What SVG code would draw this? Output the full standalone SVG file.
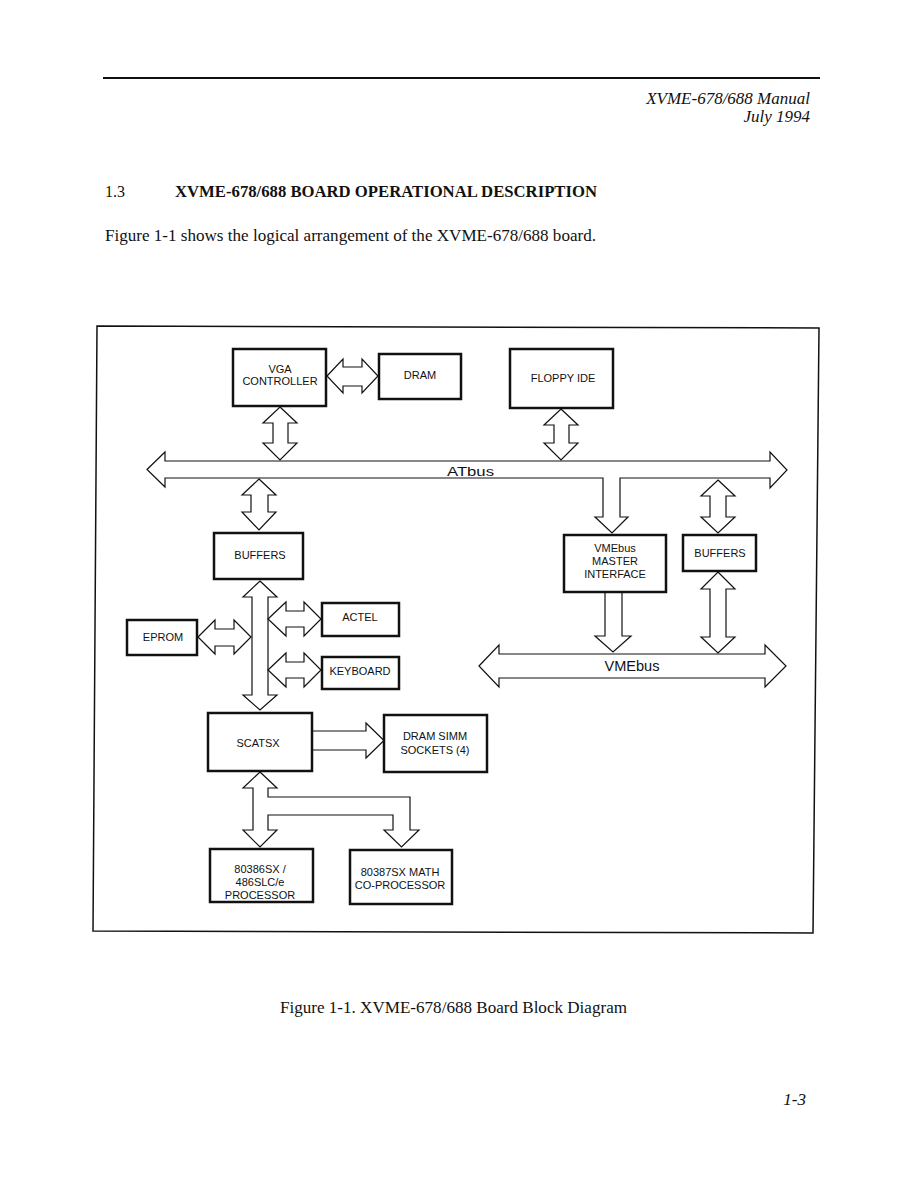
<svg xmlns="http://www.w3.org/2000/svg" width="918" height="1188" viewBox="0 0 918 1188">
<style>
.page{font-family:"Liberation Serif","Times New Roman",serif;fill:#111}
.it{font-style:italic}
.box{fill:#fff;stroke:#111;stroke-width:2.5}
.lbl{font-family:"Liberation Sans",Arial,sans-serif;font-size:11px;fill:#111;text-anchor:middle}
.arr{fill:#fff;stroke:#111;stroke-width:1.2;stroke-linejoin:miter}
.frame{fill:none;stroke:#111;stroke-width:1.5}
</style>
<rect width="918" height="1188" fill="#fff"/>
<line x1="103" y1="78" x2="820" y2="78" stroke="#111" stroke-width="2"/>
<text class="page it" x="810" y="104" font-size="17" text-anchor="end">XVME-678/688 Manual</text>
<text class="page it" x="810" y="122" font-size="17" text-anchor="end">July 1994</text>
<text class="page" x="105" y="197" font-size="16">1.3</text>
<text class="page" x="175" y="197" font-size="16" font-weight="bold" textLength="422" lengthAdjust="spacingAndGlyphs">XVME-678/688 BOARD OPERATIONAL DESCRIPTION</text>
<text class="page" x="105" y="241" font-size="16" textLength="491" lengthAdjust="spacingAndGlyphs">Figure 1-1 shows the logical arrangement of the XVME-678/688 board.</text>
<path class="frame" d="M97,326 L819,328 L813,933 L93,931 Z"/>
<g id="connectors">
<path class="arr" d="M327,376 L343,359 L343,367 L362,367 L362,359 L378,376 L362,393 L362,386 L343,386 L343,393 Z"/>
<path class="arr" d="M280,407 L297,423 L288,423 L288,443 L297,443 L280,460 L263,443 L273,443 L273,423 L263,423 Z"/>
<path class="arr" d="M561,409 L578,425 L569,425 L569,443 L578,443 L561,460 L544,443 L554,443 L554,425 L544,425 Z"/>
<path id="atbus" class="arr" d="M147,469.5 L165,452 L165,461 L770,461 L770,452 L787,470 L770,488 L770,478 L620,478 L620,517 L628,517 L612,533 L595,517 L603,517 L603,478 L165,478 L165,487 Z"/>
<path class="arr" d="M259,479 L276,495 L268,495 L268,512 L276,512 L259,530 L242,512 L251,512 L251,495 L242,495 Z"/>
<path class="arr" d="M718,480 L735,496 L726,496 L726,517 L735,517 L718,533 L701,517 L710,517 L710,496 L701,496 Z"/>
<path class="arr" d="M260,581 L277,597 L268,597 L268,695 L277,695 L260,710 L243,695 L252,695 L252,597 L243,597 Z"/>
<path class="arr" d="M198,637 L215,620 L215,629 L234,629 L234,620 L251,637 L234,654 L234,646 L215,646 L215,654 Z"/>
<path class="arr" d="M268,619 L286,602 L286,611 L304,611 L304,602 L321,619 L304,636 L304,627 L286,627 L286,636 Z"/>
<path class="arr" d="M268,670 L286,653 L286,662 L304,662 L304,653 L321,670 L304,687 L304,678 L286,678 L286,687 Z"/>
<path class="arr" d="M312,731 L366,731 L366,723 L384,740.5 L366,758 L366,750 L312,750"/>
<path class="arr" d="M260,772 L277,788 L268,788 L268,797 L410,797 L410,830 L419,830 L401.5,847 L384,830 L393,830 L393,815 L268,815 L268,830 L277,830 L260,847 L243,830 L253,830 L253,788 L243,788 Z"/>
<path class="arr" d="M605,592 L605,636 L595,636 L613,652 L631,636 L622,636 L622,592"/>
<path class="arr" d="M718,572 L735,589 L726,589 L726,637 L735,637 L718,653 L701,637 L710,637 L710,589 L701,589 Z"/>
<path id="vmebus" class="arr" d="M479,666 L499,645 L499,654 L765,654 L765,645 L786,666 L765,687 L765,678 L499,678 L499,687 Z"/>
<text x="447" y="476" font-family="Liberation Sans, Arial, sans-serif" font-size="12" fill="#111" textLength="47" lengthAdjust="spacingAndGlyphs">ATbus</text>
<text x="632" y="671" font-family="Liberation Sans, Arial, sans-serif" font-size="15" fill="#111" text-anchor="middle" textLength="55" lengthAdjust="spacingAndGlyphs">VMEbus</text>
</g>
<g id="vga"><rect class="box" x="233" y="349" width="93" height="57"/><text class="lbl" x="280" y="373">VGA</text><text class="lbl" x="280" y="385">CONTROLLER</text></g>
<g id="dram"><rect class="box" x="379" y="354" width="82" height="45"/><text class="lbl" x="420" y="379">DRAM</text></g>
<g id="floppy"><rect class="box" x="510" y="349" width="103" height="59"/><text class="lbl" x="563" y="382">FLOPPY IDE</text></g>
<g id="buffers1"><rect class="box" x="214" y="533" width="89" height="46"/><text class="lbl" x="260" y="559">BUFFERS</text></g>
<g id="eprom"><rect class="box" x="127" y="620" width="70" height="35"/><text class="lbl" x="163" y="641">EPROM</text></g>
<g id="actel"><rect class="box" x="322" y="603" width="77" height="33"/><text class="lbl" x="360" y="621">ACTEL</text></g>
<g id="keyboard"><rect class="box" x="322" y="657" width="77" height="32"/><text class="lbl" x="360" y="675">KEYBOARD</text></g>
<g id="scatsx"><rect class="box" x="208" y="713" width="104" height="58"/><text class="lbl" x="258" y="747">SCATSX</text></g>
<g id="simm"><rect class="box" x="384" y="715" width="103" height="57"/><text class="lbl" x="435" y="740">DRAM SIMM</text><text class="lbl" x="435" y="754">SOCKETS (4)</text></g>
<g id="cpu"><rect class="box" x="210" y="849" width="103" height="53"/><text class="lbl" x="260" y="873">80386SX /</text><text class="lbl" x="260" y="886">486SLC/e</text><text class="lbl" x="260" y="899">PROCESSOR</text></g>
<g id="fpu"><rect class="box" x="350" y="850" width="102" height="54"/><text class="lbl" x="400" y="876">80387SX MATH</text><text class="lbl" x="400" y="889">CO-PROCESSOR</text></g>
<g id="vmemaster"><rect class="box" x="564" y="535" width="102" height="57"/><text class="lbl" x="615" y="552">VMEbus</text><text class="lbl" x="615" y="565">MASTER</text><text class="lbl" x="615" y="578">INTERFACE</text></g>
<g id="buffers2"><rect class="box" x="683" y="535" width="73" height="36"/><text class="lbl" x="720" y="557">BUFFERS</text></g>
<text class="page" x="280" y="1013" font-size="16" textLength="347" lengthAdjust="spacingAndGlyphs">Figure 1-1. XVME-678/688 Board Block Diagram</text>
<text class="page it" x="806" y="1105" font-size="17" text-anchor="end">1-3</text>
</svg>
